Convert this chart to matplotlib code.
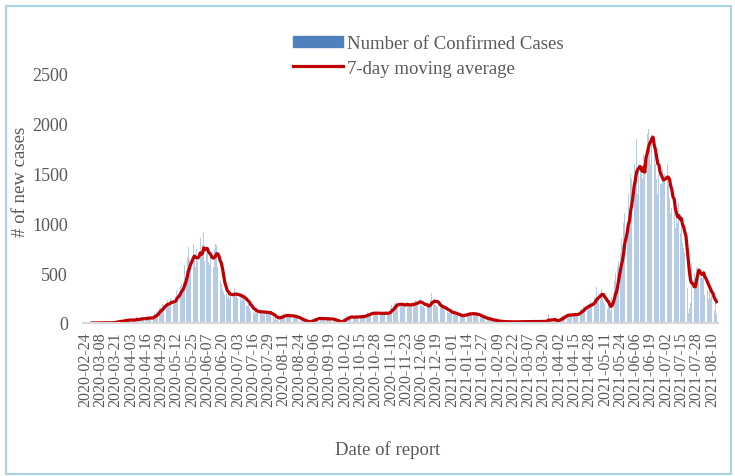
import numpy as np
import pandas as pd
import matplotlib
matplotlib.use("Agg")
import matplotlib.pyplot as plt
from matplotlib.patches import Patch, Rectangle
from matplotlib.lines import Line2D

# 일별 확진자 수 (2020-02-24 부터, 한 줄 = 1주)
start_date = "2020-02-24"
cases = [
    1, 0, 0, 0, 0, 0, 0,
    0, 0, 3, 0, 0, 0, 2,
    0, 5, 6, 0, 1, 2, 0,
    2, 6, 2, 8, 10, 16, 4,
    25, 14, 34, 6, 18, 27, 39,
    30, 33, 19, 44, 22, 26, 25,
    35, 41, 59, 28, 32, 48, 37,
    52, 40, 60, 38, 45, 62, 56,
    48, 40, 66, 105, 90, 110, 120,
    150, 160, 125, 190, 180, 215, 190,
    230, 185, 160, 250, 240, 210, 225,
    260, 330, 280, 340, 370, 395, 320,
    415, 580, 520, 660, 760, 640, 580,
    600, 790, 680, 560, 740, 620, 690,
    850, 680, 780, 915, 620, 700, 690,
    610, 580, 690, 730, 560, 740, 790,
    780, 560, 520, 420, 390, 340, 310,
    280, 300, 250, 330, 240, 310, 290,
    260, 340, 270, 300, 250, 260, 290,
    220, 280, 250, 230, 180, 170, 190,
    150, 120, 160, 110, 90, 130, 100,
    120, 95, 140, 110, 85, 125, 100,
    90, 110, 120, 85, 100, 60, 70,
    40, 45, 30, 60, 55, 75, 80,
    70, 90, 60, 85, 65, 80, 70,
    65, 70, 55, 75, 60, 50, 45,
    40, 35, 20, 25, 15, 20, 12,
    10, 8, 15, 20, 35, 45, 40,
    50, 40, 45, 60, 35, 40, 45,
    38, 42, 50, 35, 45, 40, 30,
    44, 35, 25, 20, 10, 8, 12,
    10, 15, 30, 45, 55, 70, 60,
    55, 65, 50, 70, 45, 60, 75,
    60, 55, 70, 65, 50, 80, 65,
    70, 90, 110, 85, 95, 105, 100,
    90, 110, 95, 100, 85, 105, 95,
    90, 105, 100, 95, 110, 85, 100,
    120, 150, 180, 170, 200, 190, 210,
    180, 160, 200, 175, 190, 185, 170,
    190, 200, 170, 180, 160, 210, 190,
    200, 230, 210, 190, 220, 240, 180,
    160, 170, 150, 180, 200, 160, 190,
    230, 300, 210, 240, 180, 170, 160,
    170, 150, 160, 140, 180, 130, 120,
    110, 100, 120, 90, 105, 95, 115,
    80, 70, 90, 60, 75, 65, 80,
    85, 95, 80, 100, 90, 105, 85,
    90, 100, 85, 80, 95, 70, 75,
    60, 55, 50, 45, 55, 40, 35,
    40, 30, 35, 25, 20, 28, 22,
    18, 15, 12, 20, 10, 14, 16,
    12, 8, 15, 10, 14, 9, 11,
    10, 14, 12, 16, 9, 13, 11,
    15, 12, 18, 10, 14, 16, 13,
    12, 16, 14, 18, 11, 15, 13,
    17, 13, 15, 20, 12, 16, 14,
    18, 22, 95, 20, 25, 16, 21,
    40, 30, 15, 20, 25, 55, 70,
    75, 80, 70, 85, 75, 90, 80,
    85, 70, 95, 80, 100, 75, 90,
    110, 130, 150, 140, 170, 160, 180,
    160, 190, 170, 220, 180, 210, 260,
    240, 360, 250, 300, 230, 340, 290,
    220, 190, 160, 140, 180, 150, 120,
    260, 380, 420, 500, 380, 560, 620,
    700, 850, 780, 1000, 1100, 900, 1000,
    1300, 1100, 1500, 1450, 1700, 1600, 1400,
    1850, 1300, 1600, 1550, 1500, 1450, 1700,
    1500, 2310, 1900, 1950, 1800, 1600, 1900,
    1600, 1750, 1600, 1450, 1300, 1500, 1400,
    1400, 1550, 1450, 1500, 1350, 1600, 1400,
    1250, 1100, 1150, 1000, 1200, 950, 1050,
    1000, 1200, 900, 1050, 800, 750, 700,
    700, 350, 100, 150, 200, 600, 650,
    500, 350, 560, 540, 520, 450, 530,
    450, 480, 280, 420, 330, 240, 360,
    250, 300, 180, 120, 200, 90,
]
tick_step = 13
y_ticks = [0, 500, 1000, 1500, 2000, 2500]

dates = pd.date_range(start_date, periods=len(cases), freq="D")
moving_avg = pd.Series(cases).rolling(7).mean()

plt.rcParams['font.family'] = ['Liberation Serif', 'DejaVu Serif']
gray = '#595959'

fig = plt.figure(figsize=(7.35, 4.77), dpi=100)
ax = fig.add_axes([0.1132, 0.3208, 0.8641, 0.522])

x = np.arange(len(cases))
ax.bar(x, cases, width=0.75, color='#b6cbe6', linewidth=0)
ax.plot(x, moving_avg, color='#c00000', lw=2.3)

ax.set_xlim(-1.5, len(cases) + 0.5)
ax.set_ylim(0, 2500)
ax.set_yticks(y_ticks)
tick_pos = x[::tick_step]
ax.set_xticks(tick_pos)
ax.set_xticklabels([dates[i].strftime('%Y-%m-%d') for i in tick_pos],
                   rotation=90, fontsize=11.5, color=gray)
ax.tick_params(axis='y', labelsize=13, labelcolor=gray, length=0, pad=11)
ax.tick_params(axis='x', length=0, pad=6)

for s in ['top', 'right', 'left']:
    ax.spines[s].set_visible(False)
ax.spines['bottom'].set_color('#d9d9d9')
ax.spines['bottom'].set_linewidth(1.5)

ax.set_ylabel('# of new cases', fontsize=13.5, color=gray)
ax.yaxis.set_label_coords(-0.085, 0.57)
ax.set_xlabel('Date of report', fontsize=13.5, color=gray)
ax.xaxis.set_label_coords(0.48, -0.47)

handles = [Patch(color='#4f81bd'), Line2D([], [], color='#c00000', lw=2.3)]
fig.legend(handles, ['Number of Confirmed Cases', '7-day moving average'],
           loc='upper left', bbox_to_anchor=(0.388, 0.94), frameon=False,
           fontsize=13.5, labelcolor=gray, handlelength=2.7, handleheight=0.55,
           handletextpad=0.2, labelspacing=0.4, borderaxespad=0)

fig.patches.append(Rectangle((0.008, 0.004), 0.987, 0.981, transform=fig.transFigure,
                             fill=False, edgecolor='#a8d2e6', lw=1.5))

fig.savefig('out.png', dpi=100)
